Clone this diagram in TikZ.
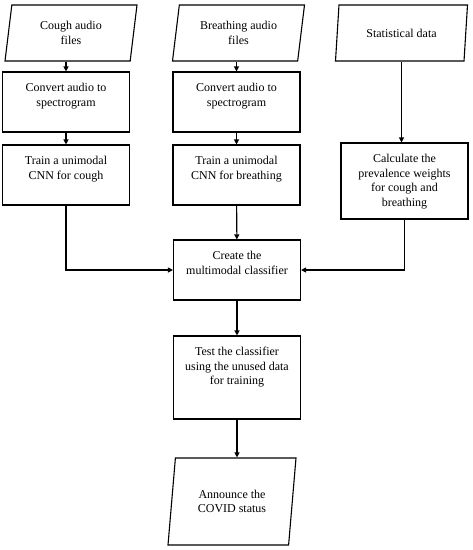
\documentclass[tikz,border=0pt]{standalone}
\usepackage{fontspec}
\setmainfont{Liberation Serif}
\usetikzlibrary{arrows.meta,positioning,shapes.geometric}
\newcommand{\boxtxt}[2]{\parbox[c][#1][t]{125pt}{\centering\vspace{10.5pt}#2}}

\begin{document}
\begin{tikzpicture}[x=1pt,y=-1pt,
  stepbox/.style={draw,line width=1.1pt,inner sep=1pt,font=\fontsize{12}{14.5}\selectfont},
  iobox/.style={draw,line width=1.1pt,trapezium,trapezium left angle=77,trapezium right angle=103,
    trapezium stretches body,minimum width=132pt,minimum height=56pt,align=center,
    font=\fontsize{12}{14.5}\selectfont},
  flow/.style={line width=1.1pt,-{Triangle[length=5pt,width=5pt]}}]
  \useasboundingbox (0,0) rectangle (473,550);
  % inputs
  \node[iobox] (incough) at (71,33) {Cough audio\\files};
  \node[iobox] (inbreath) at (238.5,33) {Breathing audio\\files};
  \node[iobox] (instat) at (401.5,33) {Statistical data};
  % processing steps
  \node[stepbox] (convcough) at (66,102) {\boxtxt{58pt}{Convert audio to\\spectrogram}};
  \node[stepbox] (traincough) at (66,175) {\boxtxt{58pt}{Train a unimodal\\CNN for cough}};
  \node[stepbox] (convbreath) at (236.5,102) {\boxtxt{58pt}{Convert audio to\\spectrogram}};
  \node[stepbox] (trainbreath) at (236.5,175) {\boxtxt{58pt}{Train a unimodal\\CNN for breathing}};
  \node[stepbox] (weights) at (404.5,181) {\boxtxt{74pt}{Calculate the\\prevalence weights\\for cough and\\breathing}};
  \node[stepbox] (fusion) at (237,270) {\boxtxt{58pt}{Create the\\multimodal classifier}};
  \node[stepbox] (test) at (237,377.5) {\boxtxt{81pt}{Test the classifier\\using the unused data\\for training}};
  % output
  \node[iobox,minimum width=128pt,minimum height=87pt,trapezium left angle=76,trapezium right angle=104]
    (status) at (232,501.5) {Announce the\\COVID status};
  % arrows
  \draw[flow] (convcough.north |- incough.south) -- (convcough);
  \draw[flow] (convcough) -- (traincough);
  \draw[flow] (convbreath.north |- inbreath.south) -- (convbreath);
  \draw[flow] (convbreath) -- (trainbreath);
  \draw[flow] (instat.south) -- (instat.south |- weights.north);
  \draw[flow] (traincough) |- (fusion);
  \draw[flow] (trainbreath) -- (fusion);
  \draw[flow] (weights) |- (fusion);
  \draw[flow] (fusion) -- (test);
  \draw[flow] (test.south) -- (test.south |- status.north);
\end{tikzpicture}
\end{document}
